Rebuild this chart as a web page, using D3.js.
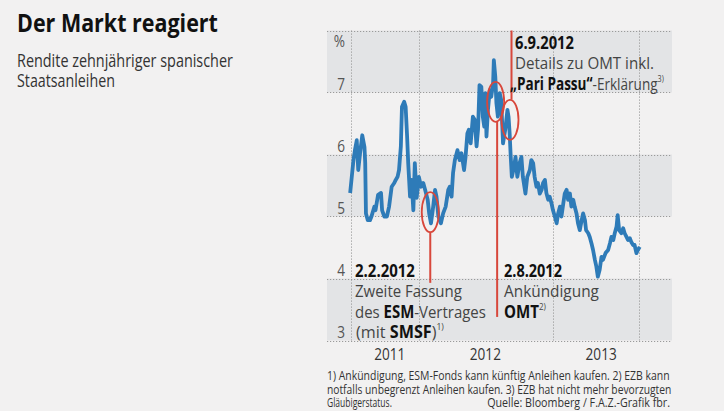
<!DOCTYPE html>
<html>
<head>
<meta charset="utf-8">
<script src="https://cdn.jsdelivr.net/npm/d3@7"></script>
<style>
  body { margin: 0; background: #f2f1f1; }
  svg { display: block; font-family: "Open Sans", "Noto Sans", sans-serif; }
</style>
</head>
<body>
<div id="chart"></div>
<script>
// yield series (10y Spanish government bonds, %)
const dates = [
  "2011-06-29","2011-07-08","2011-07-12","2011-07-17","2011-07-21","2011-07-26","2011-08-01","2011-08-07","2011-08-09","2011-08-11",
  "2011-08-16","2011-08-22","2011-08-26","2011-09-03","2011-09-06","2011-09-13","2011-09-21","2011-09-24","2011-09-30","2011-10-07",
  "2011-10-13","2011-10-20","2011-10-27","2011-10-31","2011-11-05","2011-11-09","2011-11-14","2011-11-17","2011-11-23","2011-11-27",
  "2011-12-01","2011-12-04","2011-12-09","2011-12-13","2011-12-18","2011-12-22","2011-12-27","2012-01-02","2012-01-08","2012-01-14",
  "2012-01-19","2012-01-26","2012-01-30","2012-02-04","2012-02-10","2012-02-15","2012-02-19","2012-02-24","2012-03-02","2012-03-08",
  "2012-03-15","2012-03-22","2012-03-26","2012-03-31","2012-04-04","2012-04-09","2012-04-16","2012-04-22","2012-04-27","2012-05-04",
  "2012-05-08","2012-05-13","2012-05-17","2012-05-22","2012-05-28","2012-06-02","2012-06-07","2012-06-11","2012-06-15","2012-06-20",
  "2012-06-24","2012-06-28","2012-07-01","2012-07-04","2012-07-08","2012-07-13","2012-07-17","2012-07-22","2012-07-24","2012-07-28",
  "2012-07-31","2012-08-04","2012-08-09","2012-08-13","2012-08-18","2012-08-24","2012-08-30","2012-09-02","2012-09-05","2012-09-08",
  "2012-09-11","2012-09-17","2012-09-21","2012-09-26","2012-10-02","2012-10-07","2012-10-11","2012-10-18","2012-10-23","2012-10-30",
  "2012-11-03","2012-11-08","2012-11-12","2012-11-17","2012-11-21","2012-11-26","2012-12-01","2012-12-05","2012-12-10","2012-12-14",
  "2012-12-19","2012-12-23","2012-12-28","2013-01-01","2013-01-06","2013-01-11","2013-01-15","2013-01-20","2013-01-24","2013-01-29",
  "2013-02-02","2013-02-07","2013-02-11","2013-02-16","2013-02-20","2013-02-25","2013-03-01","2013-03-06","2013-03-10","2013-03-15",
  "2013-03-20","2013-03-24","2013-03-29","2013-04-01","2013-04-07","2013-04-11","2013-04-16","2013-04-20","2013-04-25","2013-04-29",
  "2013-05-03","2013-05-08","2013-05-13","2013-05-17","2013-05-24","2013-05-31","2013-06-05","2013-06-09","2013-06-14","2013-06-18",
  "2013-06-23","2013-06-26","2013-06-30","2013-07-06","2013-07-11","2013-07-15","2013-07-20","2013-07-24","2013-07-29","2013-08-02",
  "2013-08-07","2013-08-11","2013-08-16","2013-08-20","2013-08-25"
];
const yields = [
  5.38,5.91,6.07,6.23,5.75,6.02,6.31,6.12,5.86,5.05,
  4.94,4.94,5.00,5.16,5.10,5.35,5.38,5.10,5.00,5.00,
  5.16,5.48,5.54,5.59,5.64,5.75,6.13,6.77,6.85,6.77,
  6.29,5.86,5.32,5.59,5.10,5.86,5.30,5.64,5.48,5.54,
  5.43,5.27,5.05,4.89,5.16,5.43,5.32,5.00,4.89,5.05,
  5.16,5.43,5.48,5.32,5.70,5.91,6.07,5.91,6.02,5.75,
  5.96,6.34,6.40,6.18,6.61,6.56,6.13,6.40,7.12,7.09,
  6.61,6.45,6.99,6.29,6.72,7.04,6.93,7.15,7.52,7.25,
  6.83,6.61,6.99,6.88,6.18,6.40,6.72,6.61,6.34,5.96,
  5.64,5.80,5.96,5.64,5.86,5.96,5.64,5.37,5.64,5.75,
  5.91,5.86,5.64,5.48,5.54,5.37,5.43,5.54,5.59,5.38,
  5.27,5.32,5.21,5.10,5.00,4.89,5.05,5.16,5.00,5.21,
  5.37,5.43,5.27,5.37,5.16,5.27,5.16,5.05,4.89,4.78,
  4.94,5.05,4.94,4.78,4.73,4.67,4.56,4.46,4.30,4.19,
  4.03,4.14,4.35,4.30,4.41,4.46,4.57,4.67,4.62,4.73,
  4.84,5.02,4.78,4.73,4.81,4.73,4.67,4.62,4.65,4.59,
  4.54,4.54,4.41,4.46,4.51
];

const yTicks = [3, 4, 5, 6, 7];
const yearLabels = ["2011", "2012", "2013"];
const yearLabelDates = ["2011-10-15", "2012-07-01", "2013-05-12"];
const gridDates = ["2011-07-01", "2012-01-01", "2013-01-01", "2013-08-23"];

// events: date and value at the centre of the red ring
const eventDates = ["2012-02-02", "2012-08-02", "2012-09-06"];
const eventValues = [5.07, 6.85, 6.56];

const footnotes = [
  "1) Ankündigung, ESM-Fonds kann künftig Anleihen kaufen. 2) EZB kann",
  "notfalls unbegrenzt Anleihen kaufen. 3) EZB hat nicht mehr bevorzugten",
  "Gläubigerstatus."
];
const source = "Quelle: Bloomberg / F.A.Z.-Grafik fbr.";

const parse = d3.timeParse("%Y-%m-%d");
const data = dates.map((d, i) => ({ date: parse(d), value: yields[i] }));

const width = 724, height = 411;
const svg = d3.select("#chart").append("svg")
  .attr("width", width)
  .attr("height", height);

// condensed look: squeeze a text horizontally around its anchor x
function squeeze(sel, ax, k) {
  sel.attr("transform", `translate(${ax},0) scale(${k},1) translate(${-ax},0)`);
}
function fit(sel, ax, target) {
  const w = sel.node().getComputedTextLength();
  squeeze(sel, ax, target / w);
}
const K = 0.8;

// scales
const x = d3.scaleTime()
  .domain([parse("2012-01-01"), parse("2013-01-01")])
  .range([418.5, 553]);
const y = d3.scaleLinear().domain([3, 8]).range([340.5, 30.5]);

const left = 327, right = 672;

// bands
const bands = [[7, 8], [5, 6], [3, 4]];
svg.append("g").selectAll("rect")
  .data(bands)
  .join("rect")
  .attr("x", left)
  .attr("width", right - left)
  .attr("y", d => y(d[1]))
  .attr("height", d => y(d[0]) - y(d[1]))
  .attr("fill", "#e3e4e6");

// grid
const grid = svg.append("g")
  .attr("stroke", "#9a9a9a")
  .attr("stroke-width", 1)
  .attr("stroke-dasharray", "1.2,1.8");

grid.selectAll("line.h")
  .data(yTicks.concat([8]))
  .join("line")
  .attr("class", "h")
  .attr("x1", left).attr("x2", right)
  .attr("y1", d => Math.round(y(d)) + 0.5)
  .attr("y2", d => Math.round(y(d)) + 0.5);

grid.selectAll("line.v")
  .data(gridDates.map(parse))
  .join("line")
  .attr("class", "v")
  .attr("x1", d => Math.round(x(d)) + 0.5)
  .attr("x2", d => Math.round(x(d)) + 0.5)
  .attr("y1", y(8)).attr("y2", y(3));

// y labels
svg.append("g").selectAll("text")
  .data(yTicks)
  .join("text")
  .attr("x", 345)
  .attr("y", d => y(d) - 2)
  .attr("text-anchor", "end")
  .attr("font-size", 17)
  .attr("fill", "#555")
  .text(d => d)
  .each(function () { squeeze(d3.select(this), 345, K); });

svg.append("text")
  .attr("x", 345)
  .attr("y", y(8) + 17)
  .attr("text-anchor", "end")
  .attr("font-size", 17)
  .attr("fill", "#555")
  .text("%")
  .call(s => squeeze(s, 345, K));

// year labels
svg.append("g").selectAll("text")
  .data(yearLabels)
  .join("text")
  .attr("x", (d, i) => x(parse(yearLabelDates[i])))
  .attr("y", 360)
  .attr("text-anchor", "middle")
  .attr("font-size", 17)
  .attr("fill", "#333")
  .text(d => d)
  .each(function (d, i) { squeeze(d3.select(this), x(parse(yearLabelDates[i])), K); });

// event lines
const red = "#d8473b";
const ev = eventDates.map((d, i) => ({ date: parse(d), value: eventValues[i] }));
const rx = 8.5, ry = 20;

svg.append("line")
  .attr("x1", x(ev[0].date)).attr("x2", x(ev[0].date))
  .attr("y1", y(ev[0].value) + ry).attr("y2", y(3.93))
  .attr("stroke", red).attr("stroke-width", 2);

svg.append("line")
  .attr("x1", x(ev[1].date)).attr("x2", x(ev[1].date))
  .attr("y1", y(ev[1].value) + ry).attr("y2", y(3.38))
  .attr("stroke", red).attr("stroke-width", 2);

svg.append("line")
  .attr("x1", x(ev[2].date) + 1.5).attr("x2", x(ev[2].date) + 1.5)
  .attr("y1", y(8)).attr("y2", y(ev[2].value) - ry)
  .attr("stroke", red).attr("stroke-width", 2);

// line
const line = d3.line()
  .x(d => x(d.date))
  .y(d => y(d.value));

svg.append("path")
  .datum(data)
  .attr("d", line)
  .attr("fill", "none")
  .attr("stroke", "#2e7bb8")
  .attr("stroke-width", 3.8)
  .attr("stroke-linejoin", "round");

// ellipses
svg.append("g").selectAll("ellipse")
  .data(ev)
  .join("ellipse")
  .attr("cx", (d, i) => x(d.date) - (i === 1 ? 1.5 : 0))
  .attr("cy", d => y(d.value))
  .attr("rx", rx).attr("ry", ry)
  .attr("fill", "none")
  .attr("stroke", red)
  .attr("stroke-width", 1.8);

// annotation texts, one text per line, each squeezed to the width seen
function note(xp, yp, lines) {
  lines.forEach((ln, i) => {
    const lx = xp + (ln.dx || 0);
    const t = svg.append("text")
      .attr("x", lx).attr("y", yp + i * 20.5)
      .attr("font-size", 17)
      .attr("fill", "#444");
    ln.parts.forEach(p => {
      const s = t.append("tspan").text(p.t);
      if (p.b) s.attr("font-weight", "bold").attr("fill", "#111");
      if (p.sup) s.attr("font-size", 9).attr("dy", -8);
    });
    fit(t, lx, ln.w);
  });
}

note(355, 277, [
  { w: 60, parts: [{ t: "2.2.2012", b: true }] },
  { w: 107, parts: [{ t: "Zweite Fassung" }] },
  { w: 131, parts: [{ t: "des " }, { t: "ESM", b: true }, { t: "-Vertrages" }] },
  { w: 88, dx: 1, parts: [{ t: "(mit " }, { t: "SMSF", b: true }, { t: ")" }, { t: "1)", sup: true }] }
]);

note(504, 277, [
  { w: 58, parts: [{ t: "2.8.2012", b: true }] },
  { w: 95, parts: [{ t: "Ankündigung" }] },
  { w: 42, parts: [{ t: "OMT", b: true }, { t: "2)", sup: true }] }
]);

note(515, 49, [
  { w: 59, parts: [{ t: "6.9.2012", b: true }] },
  { w: 139, parts: [{ t: "Details zu OMT inkl." }] },
  { w: 154, dx: -5, parts: [{ t: "„Pari Passu“", b: true }, { t: "-Erklärung" }, { t: "3)", sup: true }] }
]);

// title
const title = svg.append("text")
  .attr("x", 17).attr("y", 32)
  .attr("font-size", 25)
  .attr("font-weight", "bold")
  .attr("fill", "#111")
  .text("Der Markt reagiert");
fit(title, 17, 201);

const subWidths = [216, 98];
svg.append("g").selectAll("text")
  .data(["Rendite zehnjähriger spanischer", "Staatsanleihen"])
  .join("text")
  .attr("x", 17)
  .attr("y", (d, i) => 67 + i * 20)
  .attr("font-size", 18)
  .attr("fill", "#333")
  .text(d => d)
  .each(function (d, i) { fit(d3.select(this), 17, subWidths[i]); });

// footnotes
const footWidths = [343, 345, 65];
svg.append("g").selectAll("text")
  .data(footnotes)
  .join("text")
  .attr("x", 327)
  .attr("y", (d, i) => 380.5 + i * 13.2)
  .attr("font-size", 12)
  .attr("fill", "#333")
  .text(d => d)
  .each(function (d, i) { fit(d3.select(this), 327, footWidths[i]); });

const src = svg.append("text")
  .attr("x", 670).attr("y", 380.5 + 2 * 13.2)
  .attr("text-anchor", "end")
  .attr("font-size", 12)
  .attr("fill", "#333")
  .text(source);
fit(src, 670, 183);
</script>
</body>
</html>
